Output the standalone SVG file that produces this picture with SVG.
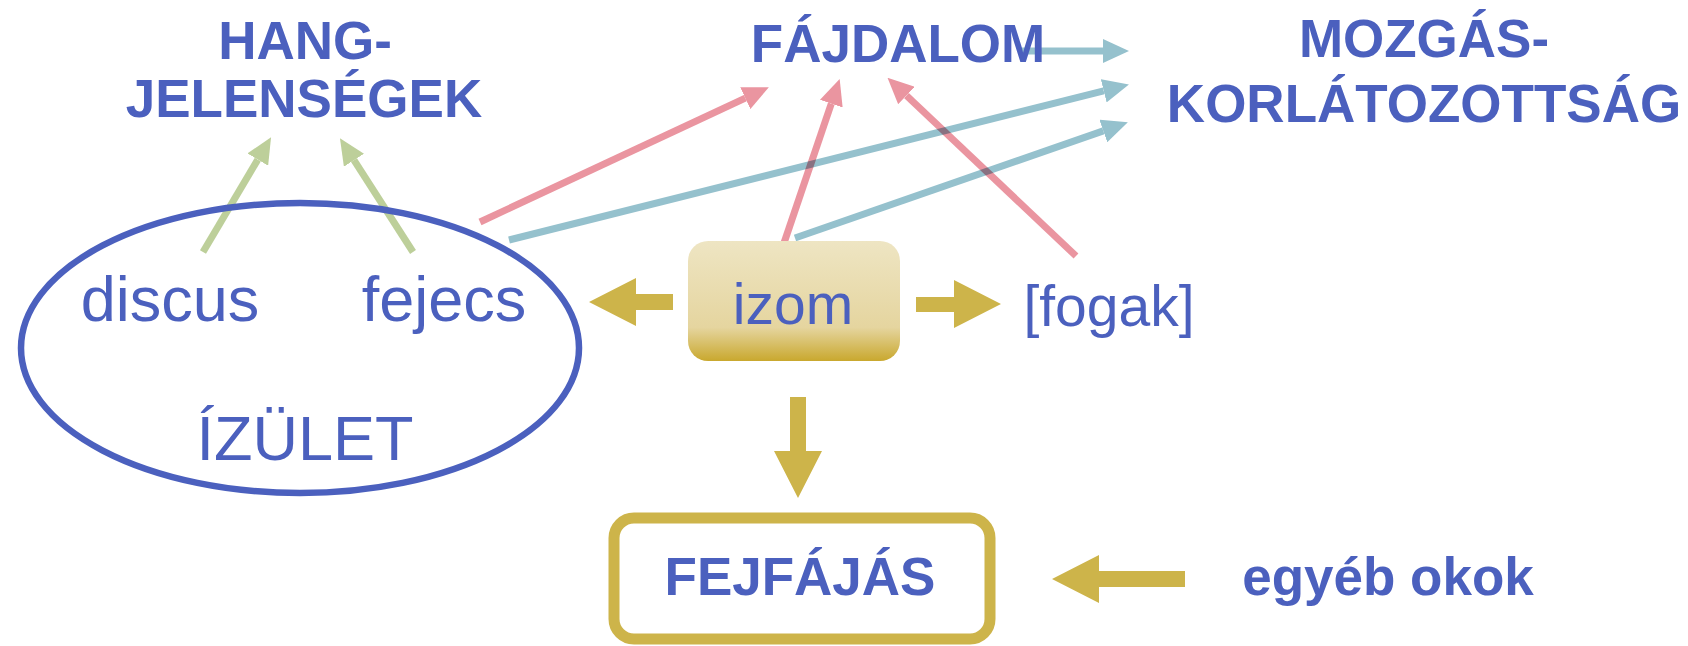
<svg xmlns="http://www.w3.org/2000/svg" width="1688" height="646" viewBox="0 0 1688 646">
<style>
.t{font-family:"Liberation Sans",Arial,sans-serif;fill:#4B60BE;text-anchor:middle}
.b{font-weight:bold;font-size:53px}
.r{font-size:63px}
.pk{stroke:#EA95A0;stroke-width:7;fill:none;mix-blend-mode:multiply}
.bl{stroke:#95C1CD;stroke-width:7;fill:none;mix-blend-mode:multiply}
.gr{stroke:#BDCF9A;stroke-width:7;fill:none}
.gold{fill:#CDB44A}
</style>
<defs>
<marker id="mp" viewBox="0 0 26 24" refX="0" refY="12" markerWidth="26" markerHeight="24" markerUnits="userSpaceOnUse" orient="auto"><path d="M0,0 L26,12 L0,24 z" fill="#EA95A0"/></marker>
<marker id="mb" viewBox="0 0 26 24" refX="0" refY="12" markerWidth="26" markerHeight="24" markerUnits="userSpaceOnUse" orient="auto"><path d="M0,0 L26,12 L0,24 z" fill="#95C1CD"/></marker>
<marker id="mg" viewBox="0 0 26 24" refX="0" refY="12" markerWidth="26" markerHeight="24" markerUnits="userSpaceOnUse" orient="auto"><path d="M0,0 L26,12 L0,24 z" fill="#BDCF9A"/></marker>
<linearGradient id="gz" x1="0" y1="0" x2="0" y2="1">
<stop offset="0" stop-color="#EEE5C3"/>
<stop offset="0.72" stop-color="#E5D59F"/>
<stop offset="1" stop-color="#C9A82E"/>
</linearGradient>
</defs>
<g id="connectors">
<line class="gr" x1="203" y1="252" x2="257.8" y2="159.6" marker-end="url(#mg)"/>
<line class="gr" x1="413" y1="252" x2="354" y2="160.2" marker-end="url(#mg)"/>
<line class="pk" x1="480" y1="222" x2="745.3" y2="98.2" marker-end="url(#mp)"/>
<line class="bl" x1="509" y1="240" x2="1103.7" y2="90.8" marker-end="url(#mb)"/>
<line class="bl" x1="1021" y1="51" x2="1103" y2="51" marker-end="url(#mb)"/>
<line class="pk" x1="784" y1="243" x2="831.3" y2="103.7" marker-end="url(#mp)"/>
<line class="bl" x1="795" y1="238" x2="1103.3" y2="130.9" marker-end="url(#mb)"/>
<line class="pk" x1="1076" y1="256" x2="906.4" y2="95.5" marker-end="url(#mp)"/>
<polygon class="gold" points="589,302 636,278 636,294 673,294 673,310 636,310 636,326"/>
<polygon class="gold" points="916,297 954,297 954,280 1001,304 954,328 954,312 916,312"/>
<polygon class="gold" points="790,397 806,397 806,451 822,451 798,498 774,451 790,451"/>
<polygon class="gold" points="1052,579 1099,555 1099,571 1185,571 1185,587 1099,587 1099,603"/>
</g>
<g id="hang">
<text class="t b" x="305" y="59">HANG-</text>
<text class="t b" x="304" y="117">JELENSÉGEK</text>
</g>
<g id="fajdalom">
<text class="t b" x="898" y="62">FÁJDALOM</text>
</g>
<g id="mozgas">
<text class="t b" x="1424" y="57">MOZGÁS-</text>
<text class="t b" x="1424" y="122">KORLÁTOZOTTSÁG</text>
</g>
<g id="izulet">
<ellipse cx="300" cy="348" rx="279" ry="145" fill="none" stroke="#4B60BE" stroke-width="6.5"/>
<text class="t r" x="170" y="321">discus</text>
<text class="t r" x="444" y="321">fejecs</text>
<text class="t r" x="305" y="460">ÍZÜLET</text>
</g>
<g id="izom">
<rect x="688" y="241" width="212" height="120" rx="20" fill="url(#gz)"/>
<text class="t" x="793" y="324" font-size="57">izom</text>
</g>
<g id="fogak">
<text class="t" x="1109" y="326" font-size="57">[fogak]</text>
</g>
<g id="fejfajas">
<rect x="614" y="518" width="376" height="121" rx="20" fill="#FFFFFF" stroke="#CDB44A" stroke-width="11"/>
<text class="t b" x="800" y="595">FEJFÁJÁS</text>
</g>
<g id="egyeb">
<text class="t b" x="1388" y="595">egyéb okok</text>
</g>
</svg>
